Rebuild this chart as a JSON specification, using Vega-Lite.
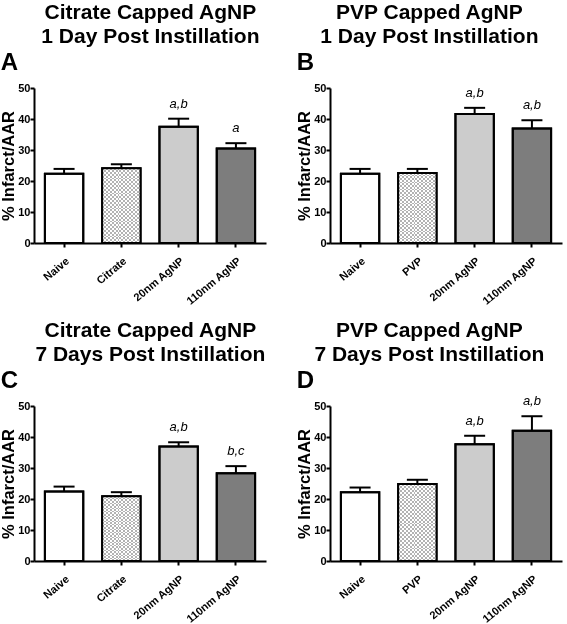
{
"$schema":"https://vega.github.io/schema/vega-lite/v6.json",
"background":"white",
"padding":{"left":0,"top":2,"right":2,"bottom":0},
"data":{"values":[
{"panel":"A","group":"Naive","mean":22.3,"err":23.9,"label":""},
{"panel":"A","group":"Citrate","mean":24.1,"err":25.4,"label":""},
{"panel":"A","group":"20nm AgNP","mean":37.5,"err":40.1,"label":"a,b"},
{"panel":"A","group":"110nm AgNP","mean":30.5,"err":32.2,"label":"a"},
{"panel":"B","group":"Naive","mean":22.3,"err":23.9,"label":""},
{"panel":"B","group":"PVP","mean":22.6,"err":23.9,"label":""},
{"panel":"B","group":"20nm AgNP","mean":41.6,"err":43.6,"label":"a,b"},
{"panel":"B","group":"110nm AgNP","mean":36.9,"err":39.6,"label":"a,b"},
{"panel":"C","group":"Naive","mean":22.4,"err":24.0,"label":""},
{"panel":"C","group":"Citrate","mean":20.9,"err":22.2,"label":""},
{"panel":"C","group":"20nm AgNP","mean":36.9,"err":38.3,"label":"a,b"},
{"panel":"C","group":"110nm AgNP","mean":28.3,"err":30.6,"label":"b,c"},
{"panel":"D","group":"Naive","mean":22.2,"err":23.7,"label":""},
{"panel":"D","group":"PVP","mean":24.8,"err":26.2,"label":""},
{"panel":"D","group":"20nm AgNP","mean":37.7,"err":40.4,"label":"a,b"},
{"panel":"D","group":"110nm AgNP","mean":42.0,"err":46.7,"label":"a,b"}
]},
"vconcat":[
{"hconcat":[
{"title":{"text":["Citrate Capped AgNP","1 Day Post Instillation"],"dx":17},
 "vconcat":[{
  "title":{"text":"A","anchor":"start","frame":"bounds","fontSize":24,"offset":7},
  "width":232,"height":155,
  "transform":[{"filter":"datum.panel=='A'"}],
  "layer":[
   {"mark":{"type":"bar","stroke":"black","strokeWidth":2},
    "encoding":{"x":{"field":"group","type":"nominal","sort":null,"scale":{"paddingInner":0.33,"paddingOuter":0.19}},
     "y":{"field":"mean","type":"quantitative","scale":{"domain":[0,50]},"title":"% Infarct/AAR","axis":{"values":[0,10,20,30,40,50]}},
     "fill":{"field":"group","type":"nominal","legend":null,"scale":{"domain":["Naive","Citrate","PVP","20nm AgNP","110nm AgNP"],"range":["#ffffff","#ffffff","#ffffff","#cccccc","#7d7d7d"]}}}},
   {"transform":[{"filter":"datum.group=='Citrate'||datum.group=='PVP'"}],
    "mark":{"type":"bar","fill":{"gradient":"linear","x1":0,"y1":0,"x2":1,"y2":0,"stops":[{"offset":0,"color":"#000"},{"offset":0.05,"color":"#000"},{"offset":0.05,"color":"#fff"},{"offset":0.1,"color":"#fff"},{"offset":0.1,"color":"#000"},{"offset":0.15,"color":"#000"},{"offset":0.15,"color":"#fff"},{"offset":0.2,"color":"#fff"},{"offset":0.2,"color":"#000"},{"offset":0.25,"color":"#000"},{"offset":0.25,"color":"#fff"},{"offset":0.3,"color":"#fff"},{"offset":0.3,"color":"#000"},{"offset":0.35,"color":"#000"},{"offset":0.35,"color":"#fff"},{"offset":0.4,"color":"#fff"},{"offset":0.4,"color":"#000"},{"offset":0.45,"color":"#000"},{"offset":0.45,"color":"#fff"},{"offset":0.5,"color":"#fff"},{"offset":0.5,"color":"#000"},{"offset":0.55,"color":"#000"},{"offset":0.55,"color":"#fff"},{"offset":0.6,"color":"#fff"},{"offset":0.6,"color":"#000"},{"offset":0.65,"color":"#000"},{"offset":0.65,"color":"#fff"},{"offset":0.7,"color":"#fff"},{"offset":0.7,"color":"#000"},{"offset":0.75,"color":"#000"},{"offset":0.75,"color":"#fff"},{"offset":0.8,"color":"#fff"},{"offset":0.8,"color":"#000"},{"offset":0.85,"color":"#000"},{"offset":0.85,"color":"#fff"},{"offset":0.9,"color":"#fff"},{"offset":0.9,"color":"#000"},{"offset":0.95,"color":"#000"},{"offset":0.95,"color":"#fff"},{"offset":1,"color":"#fff"}]}},
    "encoding":{"x":{"field":"group","type":"nominal","sort":null},"y":{"field":"mean","type":"quantitative","title":"% Infarct/AAR","axis":{"values":[0,10,20,30,40,50]}}}},
   {"transform":[{"filter":"datum.group=='Citrate'||datum.group=='PVP'"}],
    "mark":{"type":"bar","blend":"difference","fill":{"gradient":"linear","x1":0,"y1":0,"x2":0,"y2":1,"stops":[{"offset":0,"color":"#000"},{"offset":0.025,"color":"#000"},{"offset":0.025,"color":"#fff"},{"offset":0.05,"color":"#fff"},{"offset":0.05,"color":"#000"},{"offset":0.075,"color":"#000"},{"offset":0.075,"color":"#fff"},{"offset":0.1,"color":"#fff"},{"offset":0.1,"color":"#000"},{"offset":0.125,"color":"#000"},{"offset":0.125,"color":"#fff"},{"offset":0.15,"color":"#fff"},{"offset":0.15,"color":"#000"},{"offset":0.175,"color":"#000"},{"offset":0.175,"color":"#fff"},{"offset":0.2,"color":"#fff"},{"offset":0.2,"color":"#000"},{"offset":0.225,"color":"#000"},{"offset":0.225,"color":"#fff"},{"offset":0.25,"color":"#fff"},{"offset":0.25,"color":"#000"},{"offset":0.275,"color":"#000"},{"offset":0.275,"color":"#fff"},{"offset":0.3,"color":"#fff"},{"offset":0.3,"color":"#000"},{"offset":0.325,"color":"#000"},{"offset":0.325,"color":"#fff"},{"offset":0.35,"color":"#fff"},{"offset":0.35,"color":"#000"},{"offset":0.375,"color":"#000"},{"offset":0.375,"color":"#fff"},{"offset":0.4,"color":"#fff"},{"offset":0.4,"color":"#000"},{"offset":0.425,"color":"#000"},{"offset":0.425,"color":"#fff"},{"offset":0.45,"color":"#fff"},{"offset":0.45,"color":"#000"},{"offset":0.475,"color":"#000"},{"offset":0.475,"color":"#fff"},{"offset":0.5,"color":"#fff"},{"offset":0.5,"color":"#000"},{"offset":0.525,"color":"#000"},{"offset":0.525,"color":"#fff"},{"offset":0.55,"color":"#fff"},{"offset":0.55,"color":"#000"},{"offset":0.575,"color":"#000"},{"offset":0.575,"color":"#fff"},{"offset":0.6,"color":"#fff"},{"offset":0.6,"color":"#000"},{"offset":0.625,"color":"#000"},{"offset":0.625,"color":"#fff"},{"offset":0.65,"color":"#fff"},{"offset":0.65,"color":"#000"},{"offset":0.675,"color":"#000"},{"offset":0.675,"color":"#fff"},{"offset":0.7,"color":"#fff"},{"offset":0.7,"color":"#000"},{"offset":0.725,"color":"#000"},{"offset":0.725,"color":"#fff"},{"offset":0.75,"color":"#fff"},{"offset":0.75,"color":"#000"},{"offset":0.775,"color":"#000"},{"offset":0.775,"color":"#fff"},{"offset":0.8,"color":"#fff"},{"offset":0.8,"color":"#000"},{"offset":0.825,"color":"#000"},{"offset":0.825,"color":"#fff"},{"offset":0.85,"color":"#fff"},{"offset":0.85,"color":"#000"},{"offset":0.875,"color":"#000"},{"offset":0.875,"color":"#fff"},{"offset":0.9,"color":"#fff"},{"offset":0.9,"color":"#000"},{"offset":0.925,"color":"#000"},{"offset":0.925,"color":"#fff"},{"offset":0.95,"color":"#fff"},{"offset":0.95,"color":"#000"},{"offset":0.975,"color":"#000"},{"offset":0.975,"color":"#fff"},{"offset":1,"color":"#fff"}]}},
    "encoding":{"x":{"field":"group","type":"nominal","sort":null},"y":{"field":"mean","type":"quantitative","title":"% Infarct/AAR","axis":{"values":[0,10,20,30,40,50]}}}},
   {"transform":[{"filter":"datum.group=='Citrate'||datum.group=='PVP'"}],
    "mark":{"type":"bar","fill":"#ffffff","fillOpacity":0.7},
    "encoding":{"x":{"field":"group","type":"nominal","sort":null},"y":{"field":"mean","type":"quantitative","title":"% Infarct/AAR","axis":{"values":[0,10,20,30,40,50]}}}},
   {"mark":{"type":"bar","fillOpacity":0,"stroke":"black","strokeWidth":2},
    "encoding":{"x":{"field":"group","type":"nominal","sort":null},"y":{"field":"mean","type":"quantitative","title":"% Infarct/AAR","axis":{"values":[0,10,20,30,40,50]}}}},
   {"mark":{"type":"rule","color":"black","strokeWidth":2},
    "encoding":{"x":{"field":"group","type":"nominal","sort":null},"y":{"field":"mean","type":"quantitative","title":"% Infarct/AAR","axis":{"values":[0,10,20,30,40,50]}},"y2":{"field":"err"}}},
   {"mark":{"type":"tick","color":"black","size":21,"thickness":2,"opacity":1},
    "encoding":{"x":{"field":"group","type":"nominal","sort":null},"y":{"field":"err","type":"quantitative","title":"% Infarct/AAR","axis":{"values":[0,10,20,30,40,50]}}}},
   {"mark":{"type":"text","fontStyle":"italic","fontSize":13,"font":"Liberation Sans","baseline":"bottom","dy":-8,"color":"black"},
    "encoding":{"x":{"field":"group","type":"nominal","sort":null},"y":{"field":"err","type":"quantitative","title":"% Infarct/AAR","axis":{"values":[0,10,20,30,40,50]}},"text":{"field":"label"}}}
  ]}]},
{"title":{"text":["PVP Capped AgNP","1 Day Post Instillation"],"dx":0},
 "vconcat":[{
  "title":{"text":"B","anchor":"start","frame":"bounds","fontSize":24,"offset":7},
  "width":232,"height":155,
  "transform":[{"filter":"datum.panel=='B'"}],
  "layer":[
   {"mark":{"type":"bar","stroke":"black","strokeWidth":2},
    "encoding":{"x":{"field":"group","type":"nominal","sort":null,"scale":{"paddingInner":0.33,"paddingOuter":0.19}},
     "y":{"field":"mean","type":"quantitative","scale":{"domain":[0,50]},"title":"% Infarct/AAR","axis":{"values":[0,10,20,30,40,50]}},
     "fill":{"field":"group","type":"nominal","legend":null,"scale":{"domain":["Naive","Citrate","PVP","20nm AgNP","110nm AgNP"],"range":["#ffffff","#ffffff","#ffffff","#cccccc","#7d7d7d"]}}}},
   {"transform":[{"filter":"datum.group=='Citrate'||datum.group=='PVP'"}],
    "mark":{"type":"bar","fill":{"gradient":"linear","x1":0,"y1":0,"x2":1,"y2":0,"stops":[{"offset":0,"color":"#000"},{"offset":0.05,"color":"#000"},{"offset":0.05,"color":"#fff"},{"offset":0.1,"color":"#fff"},{"offset":0.1,"color":"#000"},{"offset":0.15,"color":"#000"},{"offset":0.15,"color":"#fff"},{"offset":0.2,"color":"#fff"},{"offset":0.2,"color":"#000"},{"offset":0.25,"color":"#000"},{"offset":0.25,"color":"#fff"},{"offset":0.3,"color":"#fff"},{"offset":0.3,"color":"#000"},{"offset":0.35,"color":"#000"},{"offset":0.35,"color":"#fff"},{"offset":0.4,"color":"#fff"},{"offset":0.4,"color":"#000"},{"offset":0.45,"color":"#000"},{"offset":0.45,"color":"#fff"},{"offset":0.5,"color":"#fff"},{"offset":0.5,"color":"#000"},{"offset":0.55,"color":"#000"},{"offset":0.55,"color":"#fff"},{"offset":0.6,"color":"#fff"},{"offset":0.6,"color":"#000"},{"offset":0.65,"color":"#000"},{"offset":0.65,"color":"#fff"},{"offset":0.7,"color":"#fff"},{"offset":0.7,"color":"#000"},{"offset":0.75,"color":"#000"},{"offset":0.75,"color":"#fff"},{"offset":0.8,"color":"#fff"},{"offset":0.8,"color":"#000"},{"offset":0.85,"color":"#000"},{"offset":0.85,"color":"#fff"},{"offset":0.9,"color":"#fff"},{"offset":0.9,"color":"#000"},{"offset":0.95,"color":"#000"},{"offset":0.95,"color":"#fff"},{"offset":1,"color":"#fff"}]}},
    "encoding":{"x":{"field":"group","type":"nominal","sort":null},"y":{"field":"mean","type":"quantitative","title":"% Infarct/AAR","axis":{"values":[0,10,20,30,40,50]}}}},
   {"transform":[{"filter":"datum.group=='Citrate'||datum.group=='PVP'"}],
    "mark":{"type":"bar","blend":"difference","fill":{"gradient":"linear","x1":0,"y1":0,"x2":0,"y2":1,"stops":[{"offset":0,"color":"#000"},{"offset":0.025,"color":"#000"},{"offset":0.025,"color":"#fff"},{"offset":0.05,"color":"#fff"},{"offset":0.05,"color":"#000"},{"offset":0.075,"color":"#000"},{"offset":0.075,"color":"#fff"},{"offset":0.1,"color":"#fff"},{"offset":0.1,"color":"#000"},{"offset":0.125,"color":"#000"},{"offset":0.125,"color":"#fff"},{"offset":0.15,"color":"#fff"},{"offset":0.15,"color":"#000"},{"offset":0.175,"color":"#000"},{"offset":0.175,"color":"#fff"},{"offset":0.2,"color":"#fff"},{"offset":0.2,"color":"#000"},{"offset":0.225,"color":"#000"},{"offset":0.225,"color":"#fff"},{"offset":0.25,"color":"#fff"},{"offset":0.25,"color":"#000"},{"offset":0.275,"color":"#000"},{"offset":0.275,"color":"#fff"},{"offset":0.3,"color":"#fff"},{"offset":0.3,"color":"#000"},{"offset":0.325,"color":"#000"},{"offset":0.325,"color":"#fff"},{"offset":0.35,"color":"#fff"},{"offset":0.35,"color":"#000"},{"offset":0.375,"color":"#000"},{"offset":0.375,"color":"#fff"},{"offset":0.4,"color":"#fff"},{"offset":0.4,"color":"#000"},{"offset":0.425,"color":"#000"},{"offset":0.425,"color":"#fff"},{"offset":0.45,"color":"#fff"},{"offset":0.45,"color":"#000"},{"offset":0.475,"color":"#000"},{"offset":0.475,"color":"#fff"},{"offset":0.5,"color":"#fff"},{"offset":0.5,"color":"#000"},{"offset":0.525,"color":"#000"},{"offset":0.525,"color":"#fff"},{"offset":0.55,"color":"#fff"},{"offset":0.55,"color":"#000"},{"offset":0.575,"color":"#000"},{"offset":0.575,"color":"#fff"},{"offset":0.6,"color":"#fff"},{"offset":0.6,"color":"#000"},{"offset":0.625,"color":"#000"},{"offset":0.625,"color":"#fff"},{"offset":0.65,"color":"#fff"},{"offset":0.65,"color":"#000"},{"offset":0.675,"color":"#000"},{"offset":0.675,"color":"#fff"},{"offset":0.7,"color":"#fff"},{"offset":0.7,"color":"#000"},{"offset":0.725,"color":"#000"},{"offset":0.725,"color":"#fff"},{"offset":0.75,"color":"#fff"},{"offset":0.75,"color":"#000"},{"offset":0.775,"color":"#000"},{"offset":0.775,"color":"#fff"},{"offset":0.8,"color":"#fff"},{"offset":0.8,"color":"#000"},{"offset":0.825,"color":"#000"},{"offset":0.825,"color":"#fff"},{"offset":0.85,"color":"#fff"},{"offset":0.85,"color":"#000"},{"offset":0.875,"color":"#000"},{"offset":0.875,"color":"#fff"},{"offset":0.9,"color":"#fff"},{"offset":0.9,"color":"#000"},{"offset":0.925,"color":"#000"},{"offset":0.925,"color":"#fff"},{"offset":0.95,"color":"#fff"},{"offset":0.95,"color":"#000"},{"offset":0.975,"color":"#000"},{"offset":0.975,"color":"#fff"},{"offset":1,"color":"#fff"}]}},
    "encoding":{"x":{"field":"group","type":"nominal","sort":null},"y":{"field":"mean","type":"quantitative","title":"% Infarct/AAR","axis":{"values":[0,10,20,30,40,50]}}}},
   {"transform":[{"filter":"datum.group=='Citrate'||datum.group=='PVP'"}],
    "mark":{"type":"bar","fill":"#ffffff","fillOpacity":0.7},
    "encoding":{"x":{"field":"group","type":"nominal","sort":null},"y":{"field":"mean","type":"quantitative","title":"% Infarct/AAR","axis":{"values":[0,10,20,30,40,50]}}}},
   {"mark":{"type":"bar","fillOpacity":0,"stroke":"black","strokeWidth":2},
    "encoding":{"x":{"field":"group","type":"nominal","sort":null},"y":{"field":"mean","type":"quantitative","title":"% Infarct/AAR","axis":{"values":[0,10,20,30,40,50]}}}},
   {"mark":{"type":"rule","color":"black","strokeWidth":2},
    "encoding":{"x":{"field":"group","type":"nominal","sort":null},"y":{"field":"mean","type":"quantitative","title":"% Infarct/AAR","axis":{"values":[0,10,20,30,40,50]}},"y2":{"field":"err"}}},
   {"mark":{"type":"tick","color":"black","size":21,"thickness":2,"opacity":1},
    "encoding":{"x":{"field":"group","type":"nominal","sort":null},"y":{"field":"err","type":"quantitative","title":"% Infarct/AAR","axis":{"values":[0,10,20,30,40,50]}}}},
   {"mark":{"type":"text","fontStyle":"italic","fontSize":13,"font":"Liberation Sans","baseline":"bottom","dy":-8,"color":"black"},
    "encoding":{"x":{"field":"group","type":"nominal","sort":null},"y":{"field":"err","type":"quantitative","title":"% Infarct/AAR","axis":{"values":[0,10,20,30,40,50]}},"text":{"field":"label"}}}
  ]}]}
]},
{"hconcat":[
{"title":{"text":["Citrate Capped AgNP","7 Days Post Instillation"],"dx":17},
 "vconcat":[{
  "title":{"text":"C","anchor":"start","frame":"bounds","fontSize":24,"offset":7},
  "width":232,"height":155,
  "transform":[{"filter":"datum.panel=='C'"}],
  "layer":[
   {"mark":{"type":"bar","stroke":"black","strokeWidth":2},
    "encoding":{"x":{"field":"group","type":"nominal","sort":null,"scale":{"paddingInner":0.33,"paddingOuter":0.19}},
     "y":{"field":"mean","type":"quantitative","scale":{"domain":[0,50]},"title":"% Infarct/AAR","axis":{"values":[0,10,20,30,40,50]}},
     "fill":{"field":"group","type":"nominal","legend":null,"scale":{"domain":["Naive","Citrate","PVP","20nm AgNP","110nm AgNP"],"range":["#ffffff","#ffffff","#ffffff","#cccccc","#7d7d7d"]}}}},
   {"transform":[{"filter":"datum.group=='Citrate'||datum.group=='PVP'"}],
    "mark":{"type":"bar","fill":{"gradient":"linear","x1":0,"y1":0,"x2":1,"y2":0,"stops":[{"offset":0,"color":"#000"},{"offset":0.05,"color":"#000"},{"offset":0.05,"color":"#fff"},{"offset":0.1,"color":"#fff"},{"offset":0.1,"color":"#000"},{"offset":0.15,"color":"#000"},{"offset":0.15,"color":"#fff"},{"offset":0.2,"color":"#fff"},{"offset":0.2,"color":"#000"},{"offset":0.25,"color":"#000"},{"offset":0.25,"color":"#fff"},{"offset":0.3,"color":"#fff"},{"offset":0.3,"color":"#000"},{"offset":0.35,"color":"#000"},{"offset":0.35,"color":"#fff"},{"offset":0.4,"color":"#fff"},{"offset":0.4,"color":"#000"},{"offset":0.45,"color":"#000"},{"offset":0.45,"color":"#fff"},{"offset":0.5,"color":"#fff"},{"offset":0.5,"color":"#000"},{"offset":0.55,"color":"#000"},{"offset":0.55,"color":"#fff"},{"offset":0.6,"color":"#fff"},{"offset":0.6,"color":"#000"},{"offset":0.65,"color":"#000"},{"offset":0.65,"color":"#fff"},{"offset":0.7,"color":"#fff"},{"offset":0.7,"color":"#000"},{"offset":0.75,"color":"#000"},{"offset":0.75,"color":"#fff"},{"offset":0.8,"color":"#fff"},{"offset":0.8,"color":"#000"},{"offset":0.85,"color":"#000"},{"offset":0.85,"color":"#fff"},{"offset":0.9,"color":"#fff"},{"offset":0.9,"color":"#000"},{"offset":0.95,"color":"#000"},{"offset":0.95,"color":"#fff"},{"offset":1,"color":"#fff"}]}},
    "encoding":{"x":{"field":"group","type":"nominal","sort":null},"y":{"field":"mean","type":"quantitative","title":"% Infarct/AAR","axis":{"values":[0,10,20,30,40,50]}}}},
   {"transform":[{"filter":"datum.group=='Citrate'||datum.group=='PVP'"}],
    "mark":{"type":"bar","blend":"difference","fill":{"gradient":"linear","x1":0,"y1":0,"x2":0,"y2":1,"stops":[{"offset":0,"color":"#000"},{"offset":0.025,"color":"#000"},{"offset":0.025,"color":"#fff"},{"offset":0.05,"color":"#fff"},{"offset":0.05,"color":"#000"},{"offset":0.075,"color":"#000"},{"offset":0.075,"color":"#fff"},{"offset":0.1,"color":"#fff"},{"offset":0.1,"color":"#000"},{"offset":0.125,"color":"#000"},{"offset":0.125,"color":"#fff"},{"offset":0.15,"color":"#fff"},{"offset":0.15,"color":"#000"},{"offset":0.175,"color":"#000"},{"offset":0.175,"color":"#fff"},{"offset":0.2,"color":"#fff"},{"offset":0.2,"color":"#000"},{"offset":0.225,"color":"#000"},{"offset":0.225,"color":"#fff"},{"offset":0.25,"color":"#fff"},{"offset":0.25,"color":"#000"},{"offset":0.275,"color":"#000"},{"offset":0.275,"color":"#fff"},{"offset":0.3,"color":"#fff"},{"offset":0.3,"color":"#000"},{"offset":0.325,"color":"#000"},{"offset":0.325,"color":"#fff"},{"offset":0.35,"color":"#fff"},{"offset":0.35,"color":"#000"},{"offset":0.375,"color":"#000"},{"offset":0.375,"color":"#fff"},{"offset":0.4,"color":"#fff"},{"offset":0.4,"color":"#000"},{"offset":0.425,"color":"#000"},{"offset":0.425,"color":"#fff"},{"offset":0.45,"color":"#fff"},{"offset":0.45,"color":"#000"},{"offset":0.475,"color":"#000"},{"offset":0.475,"color":"#fff"},{"offset":0.5,"color":"#fff"},{"offset":0.5,"color":"#000"},{"offset":0.525,"color":"#000"},{"offset":0.525,"color":"#fff"},{"offset":0.55,"color":"#fff"},{"offset":0.55,"color":"#000"},{"offset":0.575,"color":"#000"},{"offset":0.575,"color":"#fff"},{"offset":0.6,"color":"#fff"},{"offset":0.6,"color":"#000"},{"offset":0.625,"color":"#000"},{"offset":0.625,"color":"#fff"},{"offset":0.65,"color":"#fff"},{"offset":0.65,"color":"#000"},{"offset":0.675,"color":"#000"},{"offset":0.675,"color":"#fff"},{"offset":0.7,"color":"#fff"},{"offset":0.7,"color":"#000"},{"offset":0.725,"color":"#000"},{"offset":0.725,"color":"#fff"},{"offset":0.75,"color":"#fff"},{"offset":0.75,"color":"#000"},{"offset":0.775,"color":"#000"},{"offset":0.775,"color":"#fff"},{"offset":0.8,"color":"#fff"},{"offset":0.8,"color":"#000"},{"offset":0.825,"color":"#000"},{"offset":0.825,"color":"#fff"},{"offset":0.85,"color":"#fff"},{"offset":0.85,"color":"#000"},{"offset":0.875,"color":"#000"},{"offset":0.875,"color":"#fff"},{"offset":0.9,"color":"#fff"},{"offset":0.9,"color":"#000"},{"offset":0.925,"color":"#000"},{"offset":0.925,"color":"#fff"},{"offset":0.95,"color":"#fff"},{"offset":0.95,"color":"#000"},{"offset":0.975,"color":"#000"},{"offset":0.975,"color":"#fff"},{"offset":1,"color":"#fff"}]}},
    "encoding":{"x":{"field":"group","type":"nominal","sort":null},"y":{"field":"mean","type":"quantitative","title":"% Infarct/AAR","axis":{"values":[0,10,20,30,40,50]}}}},
   {"transform":[{"filter":"datum.group=='Citrate'||datum.group=='PVP'"}],
    "mark":{"type":"bar","fill":"#ffffff","fillOpacity":0.7},
    "encoding":{"x":{"field":"group","type":"nominal","sort":null},"y":{"field":"mean","type":"quantitative","title":"% Infarct/AAR","axis":{"values":[0,10,20,30,40,50]}}}},
   {"mark":{"type":"bar","fillOpacity":0,"stroke":"black","strokeWidth":2},
    "encoding":{"x":{"field":"group","type":"nominal","sort":null},"y":{"field":"mean","type":"quantitative","title":"% Infarct/AAR","axis":{"values":[0,10,20,30,40,50]}}}},
   {"mark":{"type":"rule","color":"black","strokeWidth":2},
    "encoding":{"x":{"field":"group","type":"nominal","sort":null},"y":{"field":"mean","type":"quantitative","title":"% Infarct/AAR","axis":{"values":[0,10,20,30,40,50]}},"y2":{"field":"err"}}},
   {"mark":{"type":"tick","color":"black","size":21,"thickness":2,"opacity":1},
    "encoding":{"x":{"field":"group","type":"nominal","sort":null},"y":{"field":"err","type":"quantitative","title":"% Infarct/AAR","axis":{"values":[0,10,20,30,40,50]}}}},
   {"mark":{"type":"text","fontStyle":"italic","fontSize":13,"font":"Liberation Sans","baseline":"bottom","dy":-8,"color":"black"},
    "encoding":{"x":{"field":"group","type":"nominal","sort":null},"y":{"field":"err","type":"quantitative","title":"% Infarct/AAR","axis":{"values":[0,10,20,30,40,50]}},"text":{"field":"label"}}}
  ]}]},
{"title":{"text":["PVP Capped AgNP","7 Days Post Instillation"],"dx":0},
 "vconcat":[{
  "title":{"text":"D","anchor":"start","frame":"bounds","fontSize":24,"offset":2},
  "width":232,"height":155,
  "transform":[{"filter":"datum.panel=='D'"}],
  "layer":[
   {"mark":{"type":"bar","stroke":"black","strokeWidth":2},
    "encoding":{"x":{"field":"group","type":"nominal","sort":null,"scale":{"paddingInner":0.33,"paddingOuter":0.19}},
     "y":{"field":"mean","type":"quantitative","scale":{"domain":[0,50]},"title":"% Infarct/AAR","axis":{"values":[0,10,20,30,40,50]}},
     "fill":{"field":"group","type":"nominal","legend":null,"scale":{"domain":["Naive","Citrate","PVP","20nm AgNP","110nm AgNP"],"range":["#ffffff","#ffffff","#ffffff","#cccccc","#7d7d7d"]}}}},
   {"transform":[{"filter":"datum.group=='Citrate'||datum.group=='PVP'"}],
    "mark":{"type":"bar","fill":{"gradient":"linear","x1":0,"y1":0,"x2":1,"y2":0,"stops":[{"offset":0,"color":"#000"},{"offset":0.05,"color":"#000"},{"offset":0.05,"color":"#fff"},{"offset":0.1,"color":"#fff"},{"offset":0.1,"color":"#000"},{"offset":0.15,"color":"#000"},{"offset":0.15,"color":"#fff"},{"offset":0.2,"color":"#fff"},{"offset":0.2,"color":"#000"},{"offset":0.25,"color":"#000"},{"offset":0.25,"color":"#fff"},{"offset":0.3,"color":"#fff"},{"offset":0.3,"color":"#000"},{"offset":0.35,"color":"#000"},{"offset":0.35,"color":"#fff"},{"offset":0.4,"color":"#fff"},{"offset":0.4,"color":"#000"},{"offset":0.45,"color":"#000"},{"offset":0.45,"color":"#fff"},{"offset":0.5,"color":"#fff"},{"offset":0.5,"color":"#000"},{"offset":0.55,"color":"#000"},{"offset":0.55,"color":"#fff"},{"offset":0.6,"color":"#fff"},{"offset":0.6,"color":"#000"},{"offset":0.65,"color":"#000"},{"offset":0.65,"color":"#fff"},{"offset":0.7,"color":"#fff"},{"offset":0.7,"color":"#000"},{"offset":0.75,"color":"#000"},{"offset":0.75,"color":"#fff"},{"offset":0.8,"color":"#fff"},{"offset":0.8,"color":"#000"},{"offset":0.85,"color":"#000"},{"offset":0.85,"color":"#fff"},{"offset":0.9,"color":"#fff"},{"offset":0.9,"color":"#000"},{"offset":0.95,"color":"#000"},{"offset":0.95,"color":"#fff"},{"offset":1,"color":"#fff"}]}},
    "encoding":{"x":{"field":"group","type":"nominal","sort":null},"y":{"field":"mean","type":"quantitative","title":"% Infarct/AAR","axis":{"values":[0,10,20,30,40,50]}}}},
   {"transform":[{"filter":"datum.group=='Citrate'||datum.group=='PVP'"}],
    "mark":{"type":"bar","blend":"difference","fill":{"gradient":"linear","x1":0,"y1":0,"x2":0,"y2":1,"stops":[{"offset":0,"color":"#000"},{"offset":0.025,"color":"#000"},{"offset":0.025,"color":"#fff"},{"offset":0.05,"color":"#fff"},{"offset":0.05,"color":"#000"},{"offset":0.075,"color":"#000"},{"offset":0.075,"color":"#fff"},{"offset":0.1,"color":"#fff"},{"offset":0.1,"color":"#000"},{"offset":0.125,"color":"#000"},{"offset":0.125,"color":"#fff"},{"offset":0.15,"color":"#fff"},{"offset":0.15,"color":"#000"},{"offset":0.175,"color":"#000"},{"offset":0.175,"color":"#fff"},{"offset":0.2,"color":"#fff"},{"offset":0.2,"color":"#000"},{"offset":0.225,"color":"#000"},{"offset":0.225,"color":"#fff"},{"offset":0.25,"color":"#fff"},{"offset":0.25,"color":"#000"},{"offset":0.275,"color":"#000"},{"offset":0.275,"color":"#fff"},{"offset":0.3,"color":"#fff"},{"offset":0.3,"color":"#000"},{"offset":0.325,"color":"#000"},{"offset":0.325,"color":"#fff"},{"offset":0.35,"color":"#fff"},{"offset":0.35,"color":"#000"},{"offset":0.375,"color":"#000"},{"offset":0.375,"color":"#fff"},{"offset":0.4,"color":"#fff"},{"offset":0.4,"color":"#000"},{"offset":0.425,"color":"#000"},{"offset":0.425,"color":"#fff"},{"offset":0.45,"color":"#fff"},{"offset":0.45,"color":"#000"},{"offset":0.475,"color":"#000"},{"offset":0.475,"color":"#fff"},{"offset":0.5,"color":"#fff"},{"offset":0.5,"color":"#000"},{"offset":0.525,"color":"#000"},{"offset":0.525,"color":"#fff"},{"offset":0.55,"color":"#fff"},{"offset":0.55,"color":"#000"},{"offset":0.575,"color":"#000"},{"offset":0.575,"color":"#fff"},{"offset":0.6,"color":"#fff"},{"offset":0.6,"color":"#000"},{"offset":0.625,"color":"#000"},{"offset":0.625,"color":"#fff"},{"offset":0.65,"color":"#fff"},{"offset":0.65,"color":"#000"},{"offset":0.675,"color":"#000"},{"offset":0.675,"color":"#fff"},{"offset":0.7,"color":"#fff"},{"offset":0.7,"color":"#000"},{"offset":0.725,"color":"#000"},{"offset":0.725,"color":"#fff"},{"offset":0.75,"color":"#fff"},{"offset":0.75,"color":"#000"},{"offset":0.775,"color":"#000"},{"offset":0.775,"color":"#fff"},{"offset":0.8,"color":"#fff"},{"offset":0.8,"color":"#000"},{"offset":0.825,"color":"#000"},{"offset":0.825,"color":"#fff"},{"offset":0.85,"color":"#fff"},{"offset":0.85,"color":"#000"},{"offset":0.875,"color":"#000"},{"offset":0.875,"color":"#fff"},{"offset":0.9,"color":"#fff"},{"offset":0.9,"color":"#000"},{"offset":0.925,"color":"#000"},{"offset":0.925,"color":"#fff"},{"offset":0.95,"color":"#fff"},{"offset":0.95,"color":"#000"},{"offset":0.975,"color":"#000"},{"offset":0.975,"color":"#fff"},{"offset":1,"color":"#fff"}]}},
    "encoding":{"x":{"field":"group","type":"nominal","sort":null},"y":{"field":"mean","type":"quantitative","title":"% Infarct/AAR","axis":{"values":[0,10,20,30,40,50]}}}},
   {"transform":[{"filter":"datum.group=='Citrate'||datum.group=='PVP'"}],
    "mark":{"type":"bar","fill":"#ffffff","fillOpacity":0.7},
    "encoding":{"x":{"field":"group","type":"nominal","sort":null},"y":{"field":"mean","type":"quantitative","title":"% Infarct/AAR","axis":{"values":[0,10,20,30,40,50]}}}},
   {"mark":{"type":"bar","fillOpacity":0,"stroke":"black","strokeWidth":2},
    "encoding":{"x":{"field":"group","type":"nominal","sort":null},"y":{"field":"mean","type":"quantitative","title":"% Infarct/AAR","axis":{"values":[0,10,20,30,40,50]}}}},
   {"mark":{"type":"rule","color":"black","strokeWidth":2},
    "encoding":{"x":{"field":"group","type":"nominal","sort":null},"y":{"field":"mean","type":"quantitative","title":"% Infarct/AAR","axis":{"values":[0,10,20,30,40,50]}},"y2":{"field":"err"}}},
   {"mark":{"type":"tick","color":"black","size":21,"thickness":2,"opacity":1},
    "encoding":{"x":{"field":"group","type":"nominal","sort":null},"y":{"field":"err","type":"quantitative","title":"% Infarct/AAR","axis":{"values":[0,10,20,30,40,50]}}}},
   {"mark":{"type":"text","fontStyle":"italic","fontSize":13,"font":"Liberation Sans","baseline":"bottom","dy":-8,"color":"black"},
    "encoding":{"x":{"field":"group","type":"nominal","sort":null},"y":{"field":"err","type":"quantitative","title":"% Infarct/AAR","axis":{"values":[0,10,20,30,40,50]}},"text":{"field":"label"}}}
  ]}]}
]}
],
"spacing":13,
"config":{
 "view":{"stroke":null},
 "concat":{"spacing":30},
 "title":{"font":"Liberation Sans","fontSize":21,"fontWeight":"bold","color":"#000","anchor":"middle","lineHeight":24,"offset":4},
 "axis":{"domainColor":"#000","domainWidth":2,"tickColor":"#000","tickWidth":2,"tickSize":4,"labelColor":"#000","labelFont":"Liberation Sans","labelFontWeight":"bold","titleFont":"Liberation Sans","titleFontWeight":"bold","titleColor":"#000","grid":false,"labelOverlap":false},
 "axisY":{"labelFontSize":11,"titleFontSize":16.5,"labelPadding":0,"titlePadding":1},
 "axisX":{"labelFontSize":11,"labelAngle":-40,"title":null,"labelPadding":8}
}
}
